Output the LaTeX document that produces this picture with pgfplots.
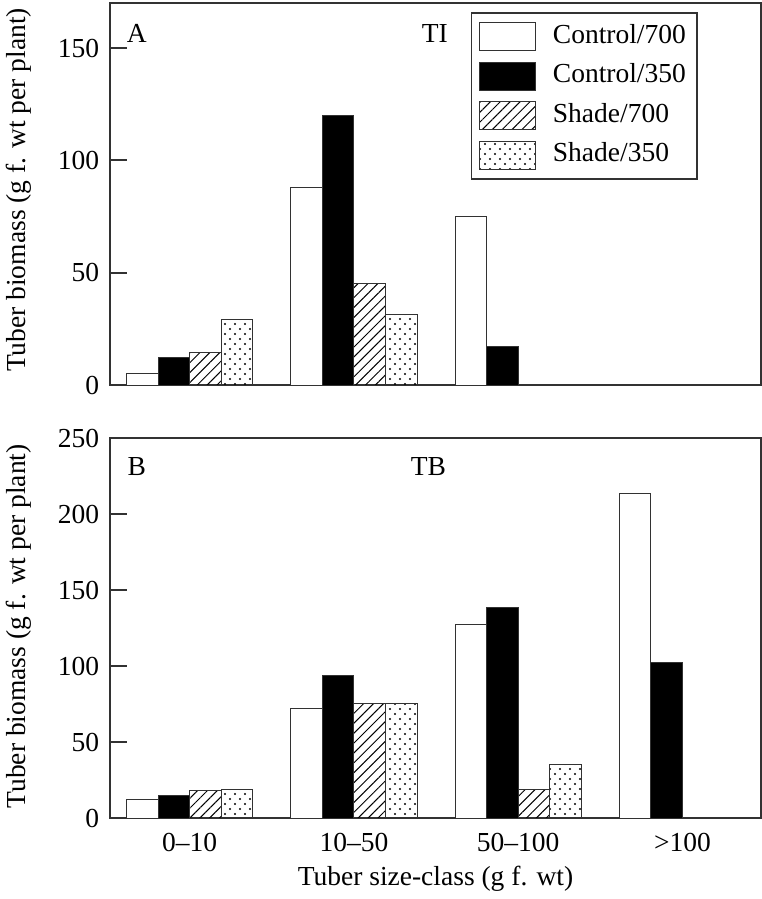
\documentclass[border=0pt]{standalone}
\usepackage{fontspec}
\setmainfont{Liberation Serif}
\usepackage{pgfplots}
\pgfplotsset{compat=1.18}
\usetikzlibrary{patterns,patterns.meta}
\pgfdeclarepatternformonly{sdots}{\pgfqpoint{-1pt}{-1pt}}{\pgfqpoint{5pt}{5pt}}{\pgfqpoint{4pt}{4pt}}{%
  \pgfpathcircle{\pgfqpoint{0pt}{0pt}}{0.45pt}%
  \pgfpathcircle{\pgfqpoint{2pt}{2pt}}{0.45pt}%
  \pgfusepath{fill}}
\definecolor{axgray}{RGB}{50,50,50}
\pgfplotsset{
  base/.style={
    scale only axis, width=260.4pt,
    ybar=0pt, bar width=12.64pt,
    xmin=-0.485, xmax=3.478, ymin=0,
    axis line style={axgray, line width=0.8pt},
    every tick/.style={axgray, line width=0.8pt},
    tick align=inside, ytick pos=left, major tick length=6.8pt,
    xtick={0,1,2,3}, xtick style={draw=none},
    font=\fontsize{11}{13}\selectfont,
    /pgf/number format/assume math mode=true,
    yticklabel style={xshift=-0.8pt},
    ylabel={Tuber biomass (g f. wt per plant)},
    every axis plot/.append style={draw=axgray, line width=0.4pt},
    legend image code/.code={\draw[#1] (0pt,-5.6pt) rectangle (22.4pt,5.6pt);},
  },
  c700/.style={fill=white, bar shift=-18.96pt},
  c350/.style={fill=black, bar shift=-6.32pt},
  s700/.style={pattern={Lines[angle=45,distance=2.8pt,line width=0.4pt]}, bar shift=6.32pt},
  s350/.style={pattern=sdots, bar shift=18.96pt},
}
\begin{document}
\begin{tikzpicture}
\begin{axis}[base, at={(44pt,-154pt)}, anchor=south west,
  height=152.7pt, ymax=170, ytick={0,50,100,150},
  xticklabels={},
  ylabel style={at={(axis description cs:-0.1398,0.511)}, anchor=center},
  legend style={at={(0.903,0.976)}, anchor=north east, draw=axgray, line width=0.6pt,
    inner xsep=3pt, inner ysep=3pt, row sep=2.8pt,
    nodes={inner sep=1.5pt, text height=7.6pt, text depth=2.4pt},
    /tikz/every odd column/.append style={column sep=5.2pt},
    cells={anchor=west}},
  legend cell align=left]
\addplot[c700] coordinates {(0,5.2) (1,88.1) (2,75.0)};
\addplot[c350] coordinates {(0,12.3) (1,119.9) (2,17.1)};
\addplot[s700] coordinates {(0,14.4) (1,45.3)};
\addplot[s350] coordinates {(0,29.3) (1,31.2)};
\legend{Control/700, Control/350, Shade/700, Shade/350}
\node at (rel axis cs:0.041,0.921) {A};
\node at (rel axis cs:0.499,0.921) {TI};
\end{axis}
\begin{axis}[base, at={(44pt,-327.32pt)}, anchor=south west,
  height=152pt, ymax=250, ytick={0,50,100,150,200,250},
  xticklabels={0--10, 10--50, 50--100, >100},
  xticklabel style={yshift=-2.3pt},
  xlabel={Tuber size-class (g f. wt)},
  xlabel style={at={(axis description cs:0.5,-0.158)}, anchor=center},
  ylabel style={at={(axis description cs:-0.1398,0.505)}, anchor=center}]
\addplot[c700] coordinates {(0,12.7) (1,72.1) (2,127.2) (3,213.4)};
\addplot[c350] coordinates {(0,15.1) (1,93.8) (2,138.6) (3,102.6)};
\addplot[s700] coordinates {(0,18.0) (1,75.7) (2,19.1)};
\addplot[s350] coordinates {(0,19.1) (1,75.7) (2,35.7)};
\node at (rel axis cs:0.041,0.926) {B};
\node at (rel axis cs:0.489,0.926) {TB};
\end{axis}
\pgfresetboundingbox
\path (0pt,0pt) rectangle (304.8pt,-359.6pt);
\end{tikzpicture}
\end{document}
